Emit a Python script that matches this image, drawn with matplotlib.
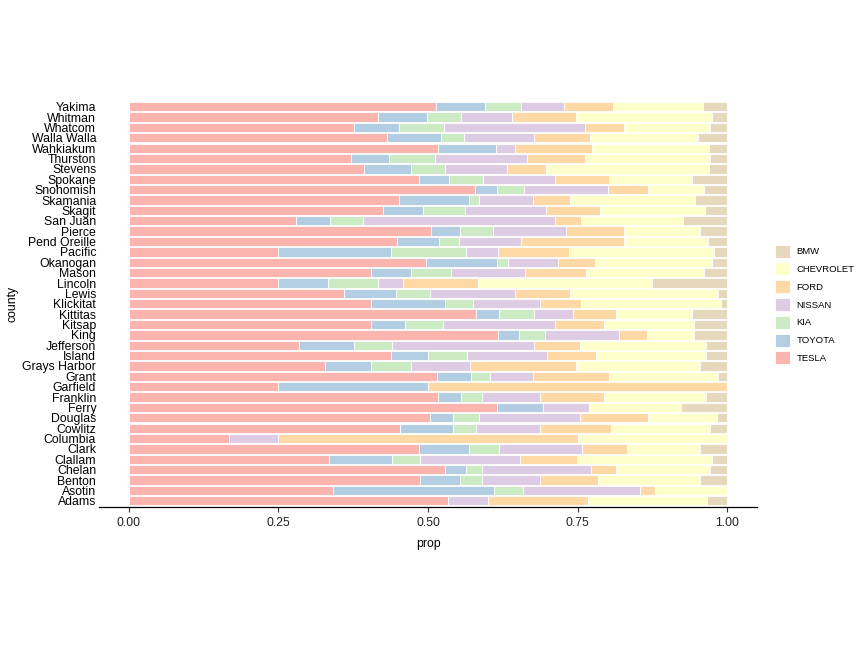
import matplotlib
matplotlib.use("Agg")
import matplotlib.pyplot as plt
import numpy as np

plt.rcParams["font.family"] = ["Liberation Sans", "DejaVu Sans"]

# counties, bottom to top
counties = ["Adams", "Asotin", "Benton", "Chelan", "Clallam", "Clark", "Columbia",
            "Cowlitz", "Douglas", "Ferry", "Franklin", "Garfield", "Grant",
            "Grays Harbor", "Island", "Jefferson", "King", "Kitsap", "Kittitas",
            "Klickitat", "Lewis", "Lincoln", "Mason", "Okanogan", "Pacific",
            "Pend Oreille", "Pierce", "San Juan", "Skagit", "Skamania", "Snohomish",
            "Spokane", "Stevens", "Thurston", "Wahkiakum", "Walla Walla", "Whatcom",
            "Whitman", "Yakima"]

tesla = [.533, .342, .487, .528, .334, .485, .167, .453, .503, .615, .516, .25, .515,
         .328, .438, .285, .617, .405, .580, .405, .359, .25, .405, .497, .25, .448,
         .505, .280, .425, .451, .578, .485, .393, .371, .516, .432, .377, .417, .513]
toyota = [0, .268, .066, .036, .105, .083, 0, .089, .039, .077, .040, .25, .057,
          .076, .062, .092, .035, .056, .038, .124, .088, .083, .066, .118, .188, .070,
          .048, .057, .066, .117, .037, .050, .079, .064, .097, .089, .074, .082, .083]
kia = [0, .048, .037, .026, .048, .050, 0, .038, .044, 0, .034, 0, .031,
       .068, .065, .063, .043, .064, .060, .047, .056, .083, .068, .019, .125, .033,
       .055, .054, .071, .018, .045, .057, .056, .077, 0, .039, .075, .057, .059]
nissan = [.067, .197, .097, .182, .167, .140, .083, .108, .168, .077, .097, 0, .073,
          .098, .134, .237, .124, .187, .064, .112, .142, .042, .123, .084, .054, .104,
          .123, .321, .135, .089, .141, .120, .104, .153, .032, .117, .236, .084, .072]
ford = [.167, .024, .098, .043, .095, .074, .5, .118, .114, 0, .108, .5, .126,
        .178, .082, .077, .047, .082, .072, .067, .092, .125, .102, .061, .118, .173,
        .097, .043, .091, .063, .067, .090, .065, .097, .129, .094, .066, .107, .082]
chevrolet = [.2, .121, .170, .156, .226, .123, .25, .166, .115, .154, .169, 0, .183,
             .206, .184, .211, .079, .151, .128, .234, .248, .292, .198, .196, .243, .140,
             .126, .171, .175, .209, .094, .140, .272, .209, .195, .180, .143, .228, .150]
bmw = [.033, 0, .045, .029, .025, .045, 0, .028, .017, .077, .036, 0, .015,
       .046, .035, .035, .055, .055, .058, .011, .015, .125, .038, .025, .022, .032,
       .046, .074, .037, .053, .038, .058, .031, .029, .031, .049, .029, .025, .041]

makes = ["TESLA", "TOYOTA", "KIA", "NISSAN", "FORD", "CHEVROLET", "BMW"]
colors = ["#FBB4AE", "#B3CDE3", "#CCEBC5", "#DECBE4", "#FED9A6", "#FFFFCC", "#E5D8BD"]

vals = np.array([tesla, toyota, kia, nissan, ford, chevrolet, bmw])
vals = vals / vals.sum(axis=0)

fig = plt.figure(figsize=(8.64, 6.48), dpi=100)
ax = fig.add_axes([99 / 864, 1 - 507 / 648, 658 / 864, 406.5 / 648])

y = np.arange(1, len(counties) + 1)
left = np.zeros(len(counties))
handles = []
for make, col, v in zip(makes, colors, vals):
    b = ax.barh(y, v, left=left, height=0.9, color=col, edgecolor="white",
                linewidth=0.6, label=make)
    handles.append(b)
    left += v

ax.set_xlim(-0.05, 1.05)
ax.set_ylim(0.4, len(counties) + 0.6)
ax.set_yticks(y)
ax.set_yticklabels(counties, fontsize=8.8, color="black")
ax.set_xticks([0, 0.25, 0.5, 0.75, 1.0])
ax.set_xticklabels(["0.00", "0.25", "0.50", "0.75", "1.00"], fontsize=8.8, color="#222222")
ax.tick_params(axis="y", length=0, pad=2)
ax.tick_params(axis="x", length=3.5, width=0.8, color="#333333", pad=4)

for s in ["top", "right", "left"]:
    ax.spines[s].set_visible(False)
ax.spines["bottom"].set_linewidth(0.9)

ax.set_xlabel("prop", fontsize=8.8, labelpad=6)
ax.set_ylabel("county", fontsize=8.8, labelpad=3)

fig.legend(handles[::-1], makes[::-1], loc="center left",
           bbox_to_anchor=(775 / 864, 1 - 304.5 / 648), frameon=False,
           fontsize=6.8, handlelength=1.6, handleheight=1.75, labelspacing=0.5,
           handletextpad=0.7, borderpad=0, borderaxespad=0)

fig.savefig("out.png", dpi=100)
